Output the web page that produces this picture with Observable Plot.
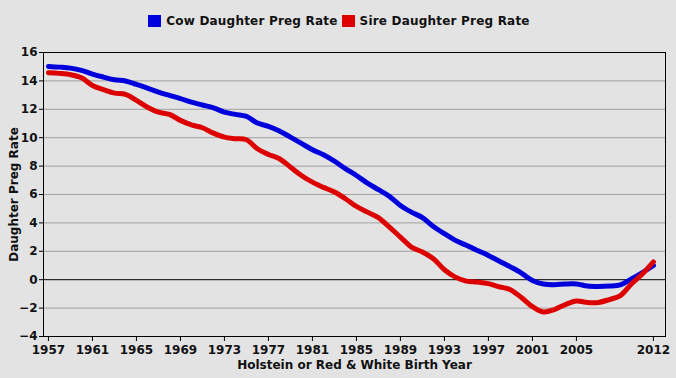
<!DOCTYPE html>
<html>
<head>
<meta charset="utf-8">
<script src="https://cdn.jsdelivr.net/npm/d3@7"></script>
<script src="https://cdn.jsdelivr.net/npm/@observablehq/plot@0.6"></script>
<style>
  html, body { margin: 0; padding: 0; background: #e3e3e3; }
  body { width: 676px; height: 378px; overflow: hidden; font-family: "DejaVu Sans", sans-serif; }
  #legend { height: 40px; padding-top: 1px; display: flex; justify-content: center; align-items: center; font: bold 12px "DejaVu Sans", sans-serif; letter-spacing: 0.2px; color: #111; padding-left: 2px; box-sizing: border-box; }
  .item { display: flex; align-items: center; margin: 0 2px; }
  .sw { width: 13px; height: 12px; margin-right: 5px; }
  svg { display: block; }
</style>
</head>
<body>
<div id="legend"></div>
<div id="chart"></div>
<script>
const years = d3.range(1957, 2013);
const seriesNames = ["Cow Daughter Preg Rate", "Sire Daughter Preg Rate"];
const seriesColors = ["#0000dc", "#dc0000"];
const cowRate = [15.02, 14.97, 14.9, 14.74, 14.48, 14.27, 14.08, 13.99, 13.75, 13.49,
  13.21, 12.98, 12.75, 12.5, 12.3, 12.1, 11.8, 11.64, 11.5, 11.03,
  10.8, 10.47, 10.04, 9.6, 9.15, 8.8, 8.35, 7.82, 7.34, 6.8,
  6.34, 5.87, 5.23, 4.76, 4.37, 3.75, 3.24, 2.77, 2.42, 2.06,
  1.71, 1.3, 0.9, 0.47, -0.05, -0.3, -0.35, -0.3, -0.3, -0.45,
  -0.48, -0.45, -0.36, 0.05, 0.5, 1.0];
const sireRate = [14.58, 14.53, 14.44, 14.22, 13.68, 13.38, 13.14, 13.05, 12.63, 12.15,
  11.8, 11.64, 11.22, 10.9, 10.7, 10.32, 10.04, 9.93, 9.86, 9.22,
  8.82, 8.52, 7.93, 7.34, 6.87, 6.5, 6.17, 5.7, 5.16, 4.76,
  4.37, 3.7, 3.0, 2.3, 1.95, 1.48, 0.7, 0.18, -0.1, -0.17,
  -0.28, -0.5, -0.7, -1.26, -1.9, -2.28, -2.1, -1.75, -1.5, -1.6,
  -1.6, -1.4, -1.12, -0.3, 0.4, 1.25];
const xTicks = [1957, 1961, 1965, 1969, 1973, 1977, 1981, 1985, 1989, 1993, 1997, 2001, 2005, 2012];
const yTicks = [-4, -2, 0, 2, 4, 6, 8, 10, 12, 14, 16];
const xLabel = "Holstein or Red & White Birth Year";
const yLabel = "Daughter Preg Rate";

const cowData = years.map((y, i) => ({year: y, value: cowRate[i]}));
const sireData = years.map((y, i) => ({year: y, value: sireRate[i]}));

// legend
const legend = document.getElementById("legend");
seriesNames.forEach((name, i) => {
  const it = document.createElement("div");
  it.className = "item";
  const sw = document.createElement("div");
  sw.className = "sw";
  sw.style.background = seriesColors[i];
  it.appendChild(sw);
  const t = document.createElement("span");
  t.textContent = name;
  it.appendChild(t);
  legend.appendChild(it);
});

const chart = Plot.plot({
  width: 676,
  height: 338,
  marginTop: 12,
  marginLeft: 43,
  marginRight: 11,
  marginBottom: 42,
  style: {background: "transparent", fontFamily: "DejaVu Sans", fontSize: "12px", fontWeight: "bold", color: "#111"},
  x: {domain: [1956.55, 2013.1]},
  y: {domain: [-4, 16]},
  marks: [
    Plot.ruleY(yTicks.filter(d => d !== 0 && d !== -4 && d !== 16), {stroke: "#a0a0a0", strokeWidth: 1}),
    Plot.ruleY([0], {stroke: "#000", strokeWidth: 1}),
    Plot.frame({stroke: "#000", strokeWidth: 1}),
    Plot.axisY({ticks: yTicks, tickSize: 4, tickPadding: 2, label: null, stroke: "#000", fontWeight: "bold"}),
    Plot.axisX({ticks: xTicks, tickSize: 5, tickPadding: 4, tickFormat: d => String(d), label: null, stroke: "#000", fontWeight: "bold"}),
    Plot.line(cowData, {x: "year", y: "value", stroke: seriesColors[0], strokeWidth: 5, curve: "catmull-rom", strokeLinecap: "round", strokeLinejoin: "round"}),
    Plot.line(sireData, {x: "year", y: "value", stroke: seriesColors[1], strokeWidth: 5, curve: "catmull-rom", strokeLinecap: "round", strokeLinejoin: "round"}),
    Plot.text([xLabel], {frameAnchor: "bottom", lineAnchor: "middle", textAnchor: "middle", dy: 29, text: d => d, fontWeight: "bold", fontSize: 12, fill: "#111"}),
    Plot.text([yLabel], {frameAnchor: "left", lineAnchor: "middle", textAnchor: "middle", rotate: -90, dx: -29, text: d => d, fontWeight: "bold", fontSize: 12, fill: "#111"})
  ]
});
document.getElementById("chart").appendChild(chart);
</script>
</body>
</html>
